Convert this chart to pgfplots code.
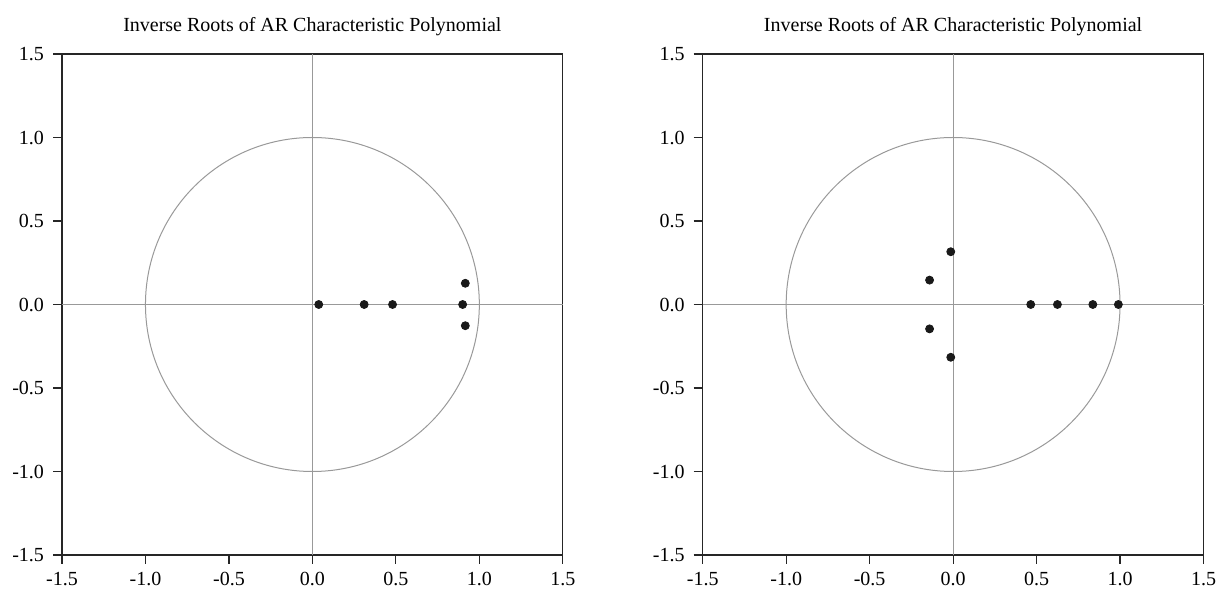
\documentclass[border=0pt]{standalone}
\usepackage{fontspec}
\setmainfont{Liberation Serif}
\usepackage{pgfplots}
\pgfplotsset{compat=1.18}

\pgfplotsset{
  rootplot/.style={
    scale only axis,
    width=250.4pt, height=250.5pt,
    xmin=-1.5, xmax=1.5, ymin=-1.5, ymax=1.5,
    xtick={-1.5,-1,...,1.5}, ytick={-1.5,-1,...,1.5},
    xtick pos=bottom, ytick pos=left,
    tick align=outside,
    major tick length=4.5pt,
    every tick/.style={black!85, line width=0.6pt},
    axis line style={black!85, line width=0.6pt},
    tick label style={font=\fontsize{10}{12}\selectfont},
    xticklabel style={yshift=-0.5pt},
    yticklabel style={xshift=-1pt},
    /pgf/number format/.cd, fixed, fixed zerofill, precision=1, assume math mode=true,
    /pgfplots/.cd,
    title style={font=\fontsize{10}{12}\selectfont, yshift=-0.5pt},
    title={Inverse Roots of AR Characteristic Polynomial},
    clip=false,
  },
  rootmarks/.style={only marks, mark=*, mark size=2pt,
    mark options={fill=black!90, draw=black!90}},
}

\begin{document}
\begin{tikzpicture}
\begin{axis}[rootplot]
  \draw[black!40, line width=0.5pt] (axis cs:-1.5,0) -- (axis cs:1.5,0);
  \draw[black!40, line width=0.5pt] (axis cs:0,-1.5) -- (axis cs:0,1.5);
  \draw[black!40, line width=0.5pt] (axis cs:0,0) circle[radius=1];
  \addplot[rootmarks] coordinates {
    (0.038,0) (0.31,0) (0.48,0) (0.90,0) (0.916,0.127) (0.916,-0.127)
  };
\end{axis}
\begin{axis}[rootplot, at={(320.35pt,0)}]
  \draw[black!40, line width=0.5pt] (axis cs:-1.5,0) -- (axis cs:1.5,0);
  \draw[black!40, line width=0.5pt] (axis cs:0,-1.5) -- (axis cs:0,1.5);
  \draw[black!40, line width=0.5pt] (axis cs:0,0) circle[radius=1];
  \addplot[rootmarks] coordinates {
    (-0.014,0.316) (-0.014,-0.316) (-0.141,0.146) (-0.141,-0.146)
    (0.465,0) (0.625,0) (0.837,0) (0.99,0)
  };
\end{axis}
\pgfresetboundingbox
\useasboundingbox (-31pt,-18.5pt) rectangle (578pt,277.5pt);
\end{tikzpicture}
\end{document}
